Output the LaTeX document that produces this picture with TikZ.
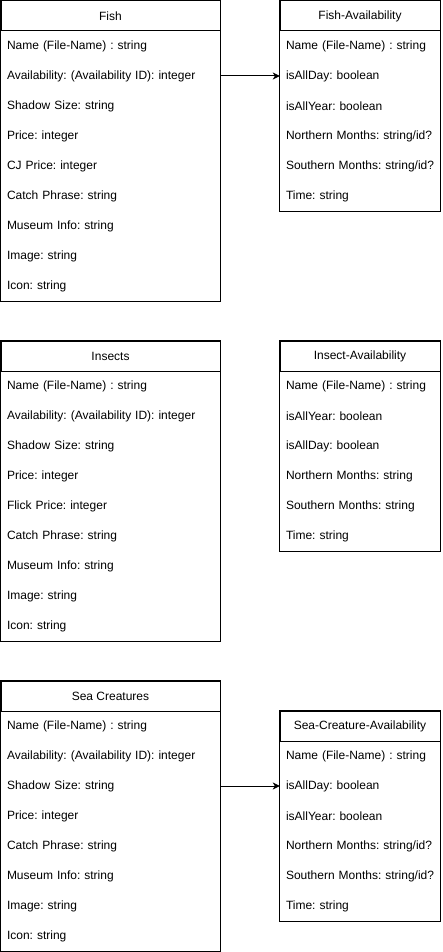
\documentclass[tikz,border=0pt]{standalone}
\usepackage{fontspec}
\setmainfont{Liberation Sans}
\frenchspacing
\usetikzlibrary{positioning,arrows.meta,fit}
\tikzset{
  hdr/.style={draw,line width=1pt,minimum width=#1,minimum height=30pt,inner sep=0pt,font=\fontsize{12}{14}\selectfont},
  row/.style={minimum width=#1,text width=#1-12pt,inner xsep=6pt,inner ysep=0pt,minimum height=30pt,align=left,font=\fontsize{12}{14}\selectfont\frenchspacing},
  tbl/.style={draw,line width=1pt,inner sep=0pt},
  arr/.style={-{Stealth[length=7pt,width=7pt,inset=2pt]},line width=1pt}}
\begin{document}
\begin{tikzpicture}[x=1pt,y=-1pt]
\useasboundingbox (0,0) rectangle (442,952);
% Fish
\node[hdr=219pt] (fish) at (110.5,16) {Fish};
\foreach \t [count=\i] in {{Name (File-Name) : string},{Availability: (Availability ID): integer},{Shadow Size: string},{Price: integer},{CJ Price: integer},{Catch Phrase: string},{Museum Info: string},{Image: string},{Icon: string}}
  \node[row=219pt] (fish\i) at (110.5,16+30*\i) {\mbox{\t}};
\node[tbl,fit=(fish)(fish9)] {};
% Fish-Availability
\node[hdr=160pt] (fa) at (360,16) {Fish-Availability};
\foreach \t [count=\i] in {{Name (File-Name) : string},{isAllDay: boolean},{isAllYear: boolean},{Northern Months: string/id?},{Southern Months: string/id?},{Time: string}}
  \node[row=160pt] (fa\i) at (360,16+30*\i) {\mbox{\t}};
\node[tbl,fit=(fa)(fa6)] {};
% Insects
\node[hdr=219pt] (ins) at (110.5,356) {Insects};
\foreach \t [count=\i] in {{Name (File-Name) : string},{Availability: (Availability ID): integer},{Shadow Size: string},{Price: integer},{Flick Price: integer},{Catch Phrase: string},{Museum Info: string},{Image: string},{Icon: string}}
  \node[row=219pt] (ins\i) at (110.5,356+30*\i) {\mbox{\t}};
\node[tbl,fit=(ins)(ins9)] {};
% Insect-Availability
\node[hdr=160pt] (ia) at (360,356) {Insect-Availability};
\foreach \t [count=\i] in {{Name (File-Name) : string},{isAllYear: boolean},{isAllDay: boolean},{Northern Months: string},{Southern Months: string},{Time: string}}
  \node[row=160pt] (ia\i) at (360,356+30*\i) {\mbox{\t}};
\node[tbl,fit=(ia)(ia6)] {};
% Sea Creatures
\node[hdr=219pt] (sea) at (110.5,696) {Sea Creatures};
\foreach \t [count=\i] in {{Name (File-Name) : string},{Availability: (Availability ID): integer},{Shadow Size: string},{Price: integer},{Catch Phrase: string},{Museum Info: string},{Image: string},{Icon: string}}
  \node[row=219pt] (sea\i) at (110.5,696+30*\i) {\mbox{\t}};
\node[tbl,fit=(sea)(sea8)] {};
% Sea-Creature-Availability
\node[hdr=160pt] (sa) at (360,726) {Sea-Creature-Availability};
\foreach \t [count=\i] in {{Name (File-Name) : string},{isAllDay: boolean},{isAllYear: boolean},{Northern Months: string/id?},{Southern Months: string/id?},{Time: string}}
  \node[row=160pt] (sa\i) at (360,726+30*\i) {\mbox{\t}};
\node[tbl,fit=(sa)(sa6)] {};
% links
\draw[arr] (fish2.east) -- (fa2.west);
\draw[arr] (sea3.east) -- (sa2.west);
\end{tikzpicture}
\end{document}
